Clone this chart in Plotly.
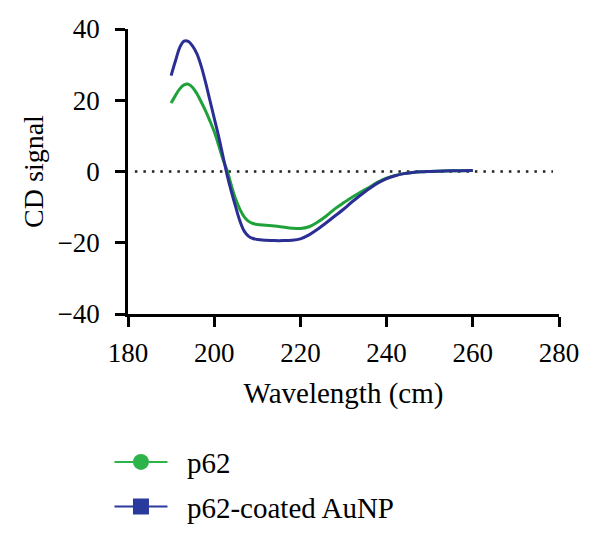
import plotly.graph_objects as go

wl_blue = [190, 191, 192, 193, 194, 195, 196, 197, 198, 199, 200, 201, 202, 203, 204, 205, 206, 207, 208, 209,
           210, 212, 214, 216, 218, 220, 222, 224, 226, 228, 230, 232, 234, 236, 238, 240, 242, 244, 246, 248,
           250, 255, 260]
cd_blue = [26.9, 31.0, 34.8, 36.6, 36.5, 35.2, 33.0, 29.5, 25.0, 20.0, 15.0, 10.0, 4.5, -1.0, -5.7, -10.0, -14.0,
           -16.8, -18.2, -18.8, -19.1, -19.3, -19.4, -19.4, -19.3, -18.9, -17.8, -16.2, -14.4, -12.5, -10.6, -8.5,
           -6.6, -4.8, -3.2, -2.0, -1.2, -0.6, -0.3, -0.1, 0.0, 0.2, 0.3]

wl_green = [190, 191, 192, 193, 194, 195, 196, 197, 198, 199, 200, 201, 202, 203, 204, 205, 206, 207, 208, 209,
            210, 212, 214, 216, 218, 220, 222, 224, 226, 228, 230, 232, 234, 236, 238, 240, 242, 244, 246, 248,
            250, 255, 260]
cd_green = [19.2, 21.3, 23.2, 24.3, 24.5, 23.6, 21.8, 19.5, 17.0, 14.2, 11.2, 7.5, 3.5, 0.3, -4.0, -7.8, -10.7,
            -12.8, -14.0, -14.6, -14.9, -15.1, -15.3, -15.6, -15.9, -16.0, -15.5, -14.2, -12.5, -10.5, -8.8, -7.2,
            -5.8, -4.4, -3.0, -1.9, -1.1, -0.6, -0.3, -0.1, 0.0, 0.2, 0.3]

zero_x = [181.6, 278.6]
zero_y = [0, 0]

x_ticks = [180, 200, 220, 240, 260, 280]
y_ticks = [-40, -20, 0, 20, 40]

names = ["p62", "p62-coated AuNP"]
GREEN = "#1fa23a"
BLUE = "#2b2f94"
FONT = "Liberation Serif"
GAP = "\u00a0\u00a0"

fig = go.Figure()
fig.add_trace(go.Scatter(x=zero_x, y=zero_y, mode="lines",
                         line=dict(color="#222222", width=2.5, dash="2.5px,6px"),
                         showlegend=False, hoverinfo="skip"))
fig.add_trace(go.Scatter(x=wl_green, y=cd_green, mode="lines", line=dict(color=GREEN, width=3, shape="spline"),
                         showlegend=False))
fig.add_trace(go.Scatter(x=wl_blue, y=cd_blue, mode="lines", line=dict(color=BLUE, width=3, shape="spline"),
                         showlegend=False))
# legend entries
fig.add_trace(go.Scatter(x=[None], y=[None], mode="lines+markers", name=GAP + names[0], legendgroup="a",
                         line=dict(color="#2db34a", width=2),
                         marker=dict(symbol="circle", size=20, color="#2db34a")))
fig.add_trace(go.Scatter(x=[None], y=[None], mode="lines+markers", name=GAP + names[1], legendgroup="b",
                         line=dict(color="#2a3a9c", width=2),
                         marker=dict(symbol="square", size=20, color="#2a3a9c")))

axis_common = dict(showline=True, linecolor="black", linewidth=2.5, ticks="outside", ticklen=10,
                   tickwidth=2.5, tickcolor="black", showgrid=False, zeroline=False,
                   tickfont=dict(family=FONT, size=27, color="black"))

fig.update_layout(
    width=600, height=542,
    margin=dict(l=128, r=41, t=29, b=228, autoexpand=False),
    paper_bgcolor="white", plot_bgcolor="white",
    xaxis=dict(range=[180, 280], tickvals=x_ticks, ticklabelstandoff=3,
               title=dict(text="Wavelength (cm)", font=dict(family=FONT, size=29, color="black"), standoff=16),
               **axis_common),
    yaxis=dict(range=[-40, 40], tickvals=y_ticks, ticklabelstandoff=10,
               tickformat="d",
               title=dict(text="CD signal", font=dict(family=FONT, size=28, color="black"), standoff=6),
               **axis_common),
    legend=dict(x=-0.043, y=-0.43, xanchor="left", yanchor="top", traceorder="grouped", tracegroupgap=4,
                itemwidth=53,
                font=dict(family=FONT, size=29, color="black"), itemsizing="trace", bgcolor="rgba(0,0,0,0)"),
    showlegend=True,
)
fig.write_html("out.html")
